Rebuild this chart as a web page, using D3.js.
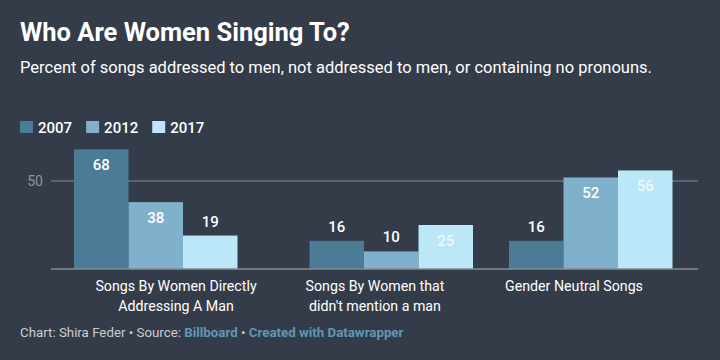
<!DOCTYPE html>
<html>
<head>
<meta charset="utf-8">
<script src="https://cdn.jsdelivr.net/npm/d3@7"></script>
<style>
  html, body { margin: 0; padding: 0; background: #343c4a; }
  svg { display: block; }
  text { font-family: Roboto, "Noto Sans", sans-serif; }
</style>
</head>
<body>
<svg id="chart" width="720" height="360"></svg>
<script>
const categories = [
  ["Songs By Women Directly", "Addressing A Man"],
  ["Songs By Women that", "didn't mention a man"],
  ["Gender Neutral Songs"]
];
const seriesNames = ["2007", "2012", "2017"];
const values2007 = [68, 16, 16];
const values2012 = [38, 10, 52];
const values2017 = [19, 25, 56];
const yTicks = [50];
const seriesColors = ["#4b7b95", "#80b1cb", "#bbe7f9"];

const seriesValues = [values2007, values2012, values2017];
const catKeys = categories.map(c => c.join(" "));

const svg = d3.select("#chart");
const W = 720, H = 360;
svg.append("rect").attr("width", W).attr("height", H).attr("fill", "#343c4a");

// Title & subtitle
svg.append("text").attr("x", 20).attr("y", 41)
  .attr("fill", "#ffffff").attr("font-size", 25.5).attr("font-weight", 700)
  .text("Who Are Women Singing To?");
svg.append("text").attr("x", 20).attr("y", 73)
  .attr("fill", "#ffffff").attr("font-size", 16.5).attr("font-weight", 400)
  .text("Percent of songs addressed to men, not addressed to men, or containing no pronouns.");

// Legend
const legend = svg.append("g").attr("transform", "translate(20,121)");
let lx = 0;
seriesNames.forEach((name, i) => {
  const g = legend.append("g").attr("transform", `translate(${lx},0)`);
  g.append("rect").attr("width", 13).attr("height", 12).attr("fill", seriesColors[i]);
  const t = g.append("text").attr("x", 18).attr("y", 12)
    .attr("fill", "#ffffff").attr("font-size", 15).attr("font-weight", 500).text(name);
  lx += 18 + t.node().getComputedTextLength() + 14;
});

// Scales
const y = d3.scaleLinear().domain([0, 50]).range([269, 181]);
const labelX = d3.scaleBand().domain(catKeys).range([76.5, 673.5]);
const groupX = d3.scaleOrdinal().domain(catKeys).range([74, 309.5, 509]);
const groupWidth = 163.5;
const inner = d3.scaleBand().domain(seriesNames).range([0, groupWidth]).padding(0);

// Gridline + tick label
const gridColor = "#858b94";
yTicks.forEach(t => {
  svg.append("line").attr("x1", 51).attr("x2", 698)
    .attr("y1", y(t)).attr("y2", y(t))
    .attr("stroke", gridColor).attr("stroke-width", 1);
  svg.append("text").attr("x", 43).attr("y", y(t) + 5)
    .attr("text-anchor", "end").attr("fill", "#8e949c").attr("font-size", 14)
    .text(t);
});

// Bars
const barsG = svg.append("g");
catKeys.forEach((ck, ci) => {
  const g = barsG.append("g").attr("transform", `translate(${groupX(ck)},0)`);
  seriesNames.forEach((s, si) => {
    const v = seriesValues[si][ci];
    const x0 = inner(s);
    const top = y(v);
    g.append("rect").attr("x", x0).attr("y", top)
      .attr("width", inner.bandwidth()).attr("height", y(0) - top)
      .attr("fill", seriesColors[si]);
    const inside = v > 20;
    g.append("text")
      .attr("x", x0 + inner.bandwidth() / 2)
      .attr("y", inside ? top + 21 : top - 9)
      .attr("text-anchor", "middle")
      .attr("fill", inside && si === 2 ? "#eef9fe" : "#ffffff")
      .attr("font-size", 15).attr("font-weight", 500)
      .text(v);
  });
});

// Baseline
svg.append("line").attr("x1", 51).attr("x2", 698)
  .attr("y1", y(0)).attr("y2", y(0))
  .attr("stroke", gridColor).attr("stroke-width", 1.5);

// Category labels
catKeys.forEach((ck, ci) => {
  const t = svg.append("text")
    .attr("x", labelX(ck) + labelX.bandwidth() / 2)
    .attr("y", 291).attr("text-anchor", "middle")
    .attr("fill", "#ffffff").attr("font-size", 14.2).attr("font-weight", 400);
  categories[ci].forEach((line, li) => {
    t.append("tspan").attr("x", labelX(ck) + labelX.bandwidth() / 2)
      .attr("dy", li === 0 ? 0 : 20).text(line);
  });
});

// Footer
const foot = svg.append("text").attr("x", 20).attr("y", 337)
  .attr("font-size", 13.3).attr("fill", "#c9cdd2");
foot.append("tspan").text("Chart: Shira Feder • Source: ");
foot.append("tspan").attr("fill", "#5f97b5").attr("font-weight", 700).text("Billboard");
foot.append("tspan").text(" • ");
foot.append("tspan").attr("fill", "#5f97b5").attr("font-weight", 700).text("Created with Datawrapper");
</script>
</body>
</html>
